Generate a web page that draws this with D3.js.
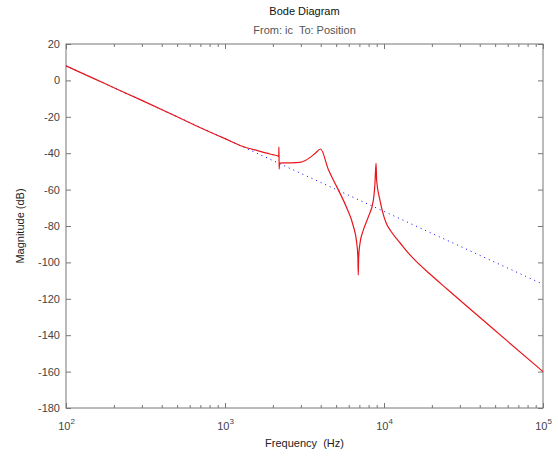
<!DOCTYPE html>
<html>
<head>
<meta charset="utf-8">
<script src="https://cdn.jsdelivr.net/npm/d3@7"></script>
<style>
  body { margin: 0; background: #fff; }
  svg { font-family: "Liberation Sans", Arial, sans-serif; }
</style>
</head>
<body>
<div id="chart"></div>
<script>
// red curve: full model response (Hz, dB)
const redFreq = [100, 150, 200, 300, 500, 700, 1000, 1300, 1600, 1830, 2000, 2150, 2178,
  2184, 2190, 2205, 2500, 2965, 3200, 3430, 3700, 3990, 4467, 5050, 5825, 6410, 6730,
  6850, 6890, 6930, 7060, 7410, 7970, 8570, 8770, 8910, 8990, 9440, 10000, 10400, 11000,
  12000, 12600, 13800, 15280, 19450, 24800, 40000, 60000, 100000];
const redMag = [8, 1, -4, -11, -20, -26, -32, -36.3, -38.6, -40, -40.8, -41.5, -41.8,
  -36.5, -48.7, -45.4, -45.3, -45, -44, -42.3, -40, -37.7, -49, -58.5, -70, -80, -89,
  -97, -107, -97, -89.6, -82.3, -75, -65.9, -56.8, -45.5, -55, -66, -75, -79, -82.6,
  -87, -89.2, -93.5, -97.8, -106.4, -114.5, -130.1, -143.4, -160];

// blue dotted: rigid body asymptote
const asymFreq = [100, 100000];
const asymMag = [8, -112];

const yTicks = [20, 0, -20, -40, -60, -80, -100, -120, -140, -160, -180];
const xTicks = [100, 1000, 10000, 100000];

const W = 558, H = 460;
const margin = { top: 44, right: 15, bottom: 52, left: 66 };
const width = W - margin.left - margin.right;
const height = H - margin.top - margin.bottom;

const svg = d3.select("#chart").append("svg")
  .attr("width", W).attr("height", H);

const g = svg.append("g")
  .attr("transform", "translate(" + margin.left + "," + margin.top + ")");

const x = d3.scaleLog().domain([100, 100000]).range([0, width]);
const y = d3.scaleLinear().domain([-180, 20]).range([height, 0]);

const axisColor = "#777";
const textColor = "#444";

// minor ticks for the log axis
const minor = [];
for (let e = 2; e < 5; e++) {
  for (let m = 2; m <= 9; m++) minor.push(m * Math.pow(10, e));
}

function style(sel) {
  sel.select(".domain").remove();
  sel.selectAll("line").attr("stroke", axisColor);
  sel.selectAll("text").attr("fill", textColor).style("font-size", "11px");
}

// bottom
g.append("g").attr("transform", "translate(0," + height + ")")
  .call(d3.axisBottom(x).tickValues(minor).tickSize(-3).tickFormat(""))
  .call(style);
const xb = g.append("g").attr("transform", "translate(0," + height + ")")
  .call(d3.axisBottom(x).tickValues(xTicks).tickSize(-5).tickFormat(""))
  .call(style);
xb.selectAll(".tick").append("text")
  .attr("y", 22)
  .attr("text-anchor", "middle")
  .attr("fill", textColor)
  .style("font-size", "11px")
  .each(function(d) {
    const t = d3.select(this);
    t.append("tspan").text("10");
    t.append("tspan").attr("dy", -6).style("font-size", "8px")
      .text(Math.round(Math.log10(d)));
  });

// top
g.append("g")
  .call(d3.axisTop(x).tickValues(minor).tickSize(-3).tickFormat(""))
  .call(style);
g.append("g")
  .call(d3.axisTop(x).tickValues(xTicks).tickSize(-5).tickFormat(""))
  .call(style);

// left (plain hyphen minus like the original)
g.append("g")
  .call(d3.axisLeft(y).tickValues(yTicks).tickSize(-5).tickPadding(6).tickFormat(d => String(d)))
  .call(style);
// right
g.append("g").attr("transform", "translate(" + width + ",0)")
  .call(d3.axisRight(y).tickValues(yTicks).tickSize(-5).tickFormat(""))
  .call(style);

// frame
g.append("rect")
  .attr("width", width).attr("height", height)
  .attr("fill", "none").attr("stroke", axisColor).attr("stroke-width", 1);

const line = d3.line().x(d => x(d[0])).y(d => y(d[1]));

g.append("path")
  .datum(asymFreq.map((f, i) => [f, asymMag[i]]))
  .attr("d", line)
  .attr("fill", "none")
  .attr("stroke", "#0000ff")
  .attr("stroke-width", 1)
  .attr("stroke-dasharray", "1,4");

g.append("path")
  .datum(redFreq.map((f, i) => [f, redMag[i]]))
  .attr("d", line.curve(d3.curveMonotoneX))
  .attr("fill", "none")
  .attr("stroke", "#e8161b")
  .attr("stroke-width", 1.2)
  .attr("stroke-linejoin", "round");

// titles
svg.append("text")
  .attr("x", margin.left + width / 2).attr("y", 15)
  .attr("text-anchor", "middle").attr("fill", "#111")
  .style("font-size", "11px").text("Bode Diagram");
svg.append("text")
  .attr("x", margin.left + width / 2).attr("y", 34)
  .attr("text-anchor", "middle").attr("fill", "#555")
  .style("font-size", "11px").style("white-space", "pre").text("From: ic  To: Position");
svg.append("text")
  .attr("x", margin.left + width / 2).attr("y", 447)
  .attr("text-anchor", "middle").attr("fill", "#222")
  .style("font-size", "11px").style("white-space", "pre").text("Frequency  (Hz)");
svg.append("text")
  .attr("transform", "translate(24," + (margin.top + height / 2) + ") rotate(-90)")
  .attr("text-anchor", "middle").attr("fill", "#222")
  .style("font-size", "11px").text("Magnitude (dB)");
</script>
</body>
</html>
